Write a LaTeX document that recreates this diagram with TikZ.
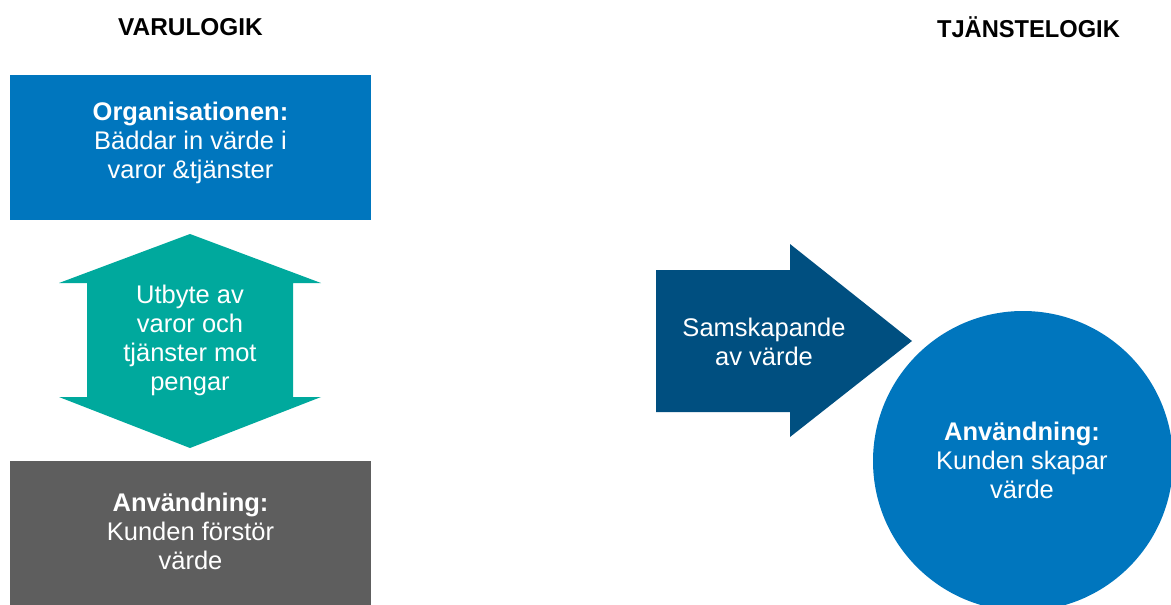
\documentclass[tikz,border=0pt]{standalone}
\usepackage{fontspec}
\setmainfont{Liberation Sans}
\definecolor{boxblue}{RGB}{0,118,190}
\definecolor{darkblue}{RGB}{0,79,128}
\definecolor{teal2}{RGB}{0,169,157}
\definecolor{greybox}{RGB}{94,94,94}
\begin{document}
\begin{tikzpicture}[x=1pt,y=-1pt,
  bodytext/.style={text=white,align=center,font=\fontsize{25.5}{29}\selectfont},
  title/.style={font=\fontsize{24.4}{28}\selectfont\bfseries,text=black}]
\useasboundingbox (0,0) rectangle (1171,605);
\clip (0,0) rectangle (1171,605);
\fill[white] (0,0) rectangle (1171,605);
% titles
\node[title] (t1) at (190.5,27) {VARULOGIK};
\node[title,xscale=0.97] (t2) at (1028.5,27) {TJÄNSTELOGIK};
% left column
\fill[boxblue] (10,75) rectangle (371,220);
\node[bodytext] (org) at (190.5,143) {\textbf{Organisationen:}\\Bäddar in värde i\\varor \&tjänster};
\fill[teal2] (190,234) -- (321,283) -- (293,283) -- (293,397) -- (321,397)
  -- (190,448) -- (59,397) -- (87,397) -- (87,283) -- (59,283) -- cycle;
\node[bodytext] (utb) at (190,340) {Utbyte av\\varor och\\tjänster mot\\pengar};
\fill[greybox] (10,461) rectangle (371,610);
\node[bodytext] (anv1) at (190.5,531) {\textbf{Användning:}\\Kunden förstör\\värde};
% right column
\fill[darkblue] (656,270) -- (790,270) -- (790,244) -- (912,341) -- (790,437)
  -- (790,412) -- (656,412) -- cycle;
\node[bodytext] (sam) at (764,342) {Samskapande\\av värde};
\node[circle,fill=boxblue,minimum size=300pt,inner sep=0pt] (circ) at (1023,461) {};
\node[bodytext] (anv2) at (1022,460) {\textbf{Användning:}\\Kunden skapar\\värde};
\end{tikzpicture}
\end{document}
